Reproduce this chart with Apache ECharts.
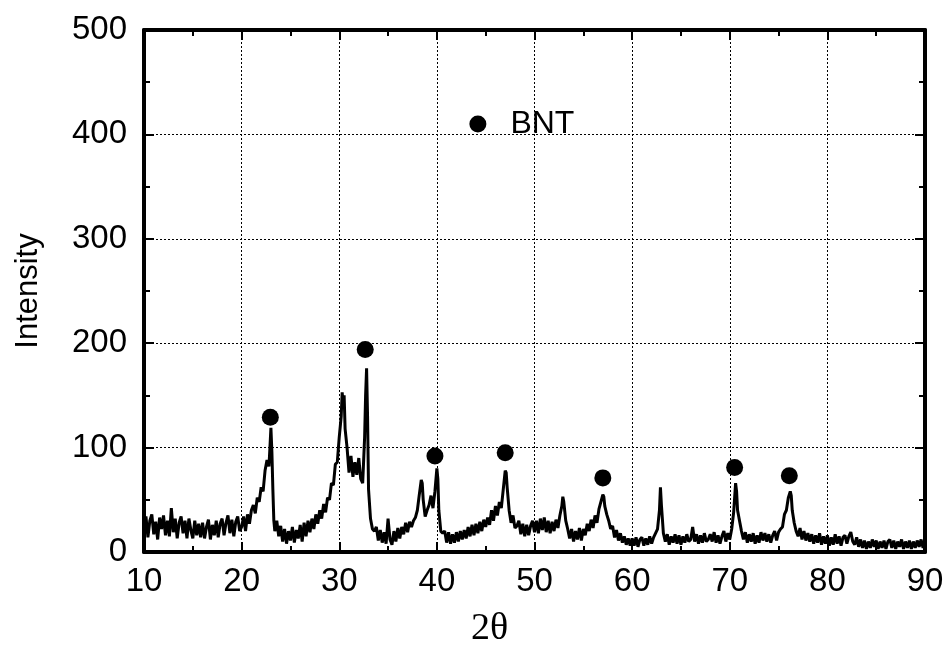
<!DOCTYPE html>
<html><head><meta charset="utf-8">
<script src="https://cdn.jsdelivr.net/npm/echarts@6/dist/echarts.min.js"></script>
<style>html,body{margin:0;padding:0;background:#fff}#c{width:950px;height:669px}</style>
</head><body><div id="c"></div>
<script>
// XRD pattern: [2theta, intensity]
const pattern = [
[10.0,20],[10.2,34],[10.4,14],[10.6,30],[10.8,36],[11.0,17],[11.2,29],[11.4,12],[11.6,33],[11.8,22],
[12.0,35],[12.2,16],[12.4,30],[12.6,15],[12.8,42],[13.0,19],[13.2,32],[13.4,13],[13.6,28],[13.8,34],
[14.0,18],[14.2,30],[14.4,13],[14.6,32],[14.8,21],[15.0,13],[15.2,30],[15.4,16],[15.6,27],[15.8,14],
[16.0,28],[16.2,13],[16.4,24],[16.6,31],[16.8,12],[17.0,26],[17.2,16],[17.4,30],[17.6,14],[17.8,27],
[18.0,32],[18.2,16],[18.4,28],[18.6,35],[18.8,18],[19.0,31],[19.2,15],[19.4,29],[19.6,34],[19.8,20],
[20.0,24],[20.2,34],[20.4,20],[20.6,36],[20.8,27],[21.0,40],[21.2,45],[21.4,37],[21.6,52],[21.8,48],
[22.0,62],[22.2,58],[22.4,78],[22.6,88],[22.8,82],[22.9,100],[23.0,119],[23.1,96],[23.2,60],[23.3,30],
[23.4,20],[23.6,30],[23.8,15],[24.0,25],[24.2,10],[24.4,22],[24.6,8],[24.8,20],[25.0,11],[25.2,24],
[25.4,9],[25.6,21],[25.8,13],[26.0,26],[26.2,10],[26.4,28],[26.6,15],[26.8,30],[27.0,19],[27.2,32],
[27.4,22],[27.6,36],[27.8,27],[28.0,40],[28.2,32],[28.4,46],[28.6,38],[28.8,52],[29.0,50],[29.2,66],
[29.4,64],[29.6,84],[29.8,86],[30.0,110],[30.2,130],[30.3,153],[30.4,140],[30.5,150],[30.6,118],[30.8,100],
[31.0,76],[31.2,92],[31.4,72],[31.6,86],[31.8,74],[32.0,90],[32.2,70],[32.4,66],[32.6,110],[32.7,150],
[32.8,176],[32.9,130],[33.0,60],[33.2,32],[33.4,22],[33.6,20],[33.8,24],[34.0,11],[34.2,21],[34.4,9],
[34.6,19],[34.8,8],[35.0,32],[35.2,12],[35.4,7],[35.6,20],[35.8,10],[36.0,23],[36.2,13],[36.4,24],
[36.6,17],[36.8,28],[37.0,19],[37.2,29],[37.4,24],[37.6,30],[37.8,33],[38.0,40],[38.2,55],[38.4,69],
[38.5,66],[38.6,50],[38.8,34],[39.0,40],[39.2,45],[39.4,54],[39.6,42],[39.8,58],[40.0,80],[40.1,70],
[40.2,40],[40.4,20],[40.6,18],[40.8,20],[41.0,9],[41.2,19],[41.4,8],[41.6,17],[41.8,9],[42.0,19],
[42.2,10],[42.4,20],[42.6,12],[42.8,21],[43.0,13],[43.2,24],[43.4,15],[43.6,26],[43.8,16],[44.0,27],
[44.2,18],[44.4,29],[44.6,20],[44.8,31],[45.0,24],[45.2,33],[45.4,26],[45.6,40],[45.8,30],[46.0,44],
[46.2,35],[46.4,48],[46.6,42],[46.8,60],[47.0,78],[47.1,76],[47.2,62],[47.4,40],[47.6,28],[47.8,35],
[48.0,23],[48.2,25],[48.4,30],[48.6,17],[48.8,27],[49.0,15],[49.2,26],[49.4,16],[49.6,25],[49.8,30],
[50.0,19],[50.2,30],[50.4,18],[50.6,32],[50.8,21],[51.0,33],[51.2,19],[51.4,30],[51.6,18],[51.8,29],
[52.0,20],[52.2,31],[52.4,23],[52.6,35],[52.8,44],[52.9,53],[53.0,48],[53.2,30],[53.4,22],[53.6,13],
[53.8,22],[54.0,10],[54.2,20],[54.4,12],[54.6,23],[54.8,11],[55.0,22],[55.2,16],[55.4,27],[55.6,20],
[55.8,31],[56.0,23],[56.2,35],[56.4,28],[56.6,41],[56.8,40],[57.0,55],[57.1,53],[57.2,44],[57.4,36],
[57.6,30],[57.8,22],[58.0,25],[58.2,14],[58.4,21],[58.6,11],[58.8,18],[59.0,9],[59.2,15],[59.4,7],
[59.6,13],[59.8,6],[60.0,13],[60.2,6],[60.4,14],[60.6,5],[60.8,12],[61.0,14],[61.2,6],[61.4,13],
[61.6,7],[61.8,15],[62.0,8],[62.2,14],[62.4,15],[62.6,22],[62.8,40],[62.9,62],[63.0,45],[63.2,18],
[63.4,10],[63.6,17],[63.8,7],[64.0,15],[64.2,9],[64.4,17],[64.6,8],[64.8,16],[65.0,7],[65.2,15],
[65.4,9],[65.6,17],[65.8,10],[66.0,12],[66.2,24],[66.4,10],[66.6,17],[66.8,8],[67.0,16],[67.2,9],
[67.4,18],[67.6,10],[67.8,12],[68.0,17],[68.2,10],[68.4,19],[68.6,9],[68.8,16],[69.0,8],[69.2,15],
[69.4,20],[69.6,10],[69.8,18],[70.0,12],[70.2,22],[70.4,38],[70.6,66],[70.7,58],[70.8,40],[71.0,30],
[71.2,20],[71.4,12],[71.6,19],[71.8,9],[72.0,17],[72.2,10],[72.4,18],[72.6,8],[72.8,16],[73.0,9],
[73.2,19],[73.4,11],[73.6,18],[73.8,10],[74.0,17],[74.2,9],[74.4,16],[74.6,20],[74.8,11],[75.0,19],
[75.2,22],[75.4,24],[75.6,36],[75.8,40],[76.0,52],[76.2,58],[76.3,54],[76.4,40],[76.6,28],[76.8,20],
[77.0,15],[77.2,23],[77.4,12],[77.6,20],[77.8,11],[78.0,18],[78.2,10],[78.4,17],[78.6,8],[78.8,16],
[79.0,9],[79.2,18],[79.4,7],[79.6,15],[79.8,8],[80.0,16],[80.2,6],[80.4,14],[80.6,7],[80.8,17],
[81.0,8],[81.2,15],[81.4,6],[81.6,14],[81.8,16],[82.0,8],[82.2,15],[82.4,19],[82.6,10],[82.8,7],
[83.0,14],[83.2,5],[83.4,12],[83.6,4],[83.8,11],[84.0,3],[84.2,10],[84.4,4],[84.6,12],[84.8,5],
[85.0,11],[85.2,3],[85.4,10],[85.6,4],[85.8,11],[86.0,3],[86.2,10],[86.4,12],[86.6,4],[86.8,11],
[87.0,3],[87.2,10],[87.4,5],[87.6,12],[87.8,3],[88.0,10],[88.2,4],[88.4,11],[88.6,3],[88.8,10],
[89.0,4],[89.2,11],[89.4,5],[89.6,12],[89.8,4],[90.0,12]
];
// BNT peak markers
const bntPeaks = [[22.94,129],[32.66,194],[39.8,92],[47.0,95],[57.0,71],[70.5,81],[76.1,73]];
const legendPoint = [[44.2,410]];
const legendLabel = 'BNT';
const xName = '2θ';
const yName = 'Intensity';

const black = '#000';
const font = 'Liberation Sans';
function boxAxis(extra){
  return Object.assign({
    axisLine:{show:true,onZero:false,lineStyle:{color:black,width:4}},
    axisTick:{show:true,inside:true,length:10,lineStyle:{color:black,width:2}},
    minorTick:{show:true,splitNumber:2,length:6,lineStyle:{color:black,width:2}},
    splitLine:{show:false},
    axisLabel:{show:false}
  }, extra);
}
const grid = {left:144,right:25,top:30,bottom:117};
const chart = echarts.init(document.getElementById('c'));
chart.setOption({
  animation:false,
  backgroundColor:'#fff',
  grid:grid,
  xAxis:[
    boxAxis({type:'value',min:10,max:90,interval:10,position:'bottom',
      splitLine:{show:true,lineStyle:{color:black,width:1,type:[2,2]}},
      axisLabel:{show:true,fontSize:33,color:black,fontFamily:font,margin:13},
      name:xName,nameLocation:'middle',nameGap:58,
      nameTextStyle:{fontFamily:'Liberation Serif',fontSize:38,color:black,padding:[0,90,0,0]}}),
    boxAxis({type:'value',min:10,max:90,interval:10,position:'top'})
  ],
  yAxis:[
    boxAxis({type:'value',min:0,max:500,interval:100,position:'left',
      splitLine:{show:true,lineStyle:{color:black,width:1,type:[2,2]}},
      axisLabel:{show:true,fontSize:33,color:black,fontFamily:font,margin:17},
      name:yName,nameLocation:'middle',nameGap:100,
      nameTextStyle:{fontFamily:font,fontSize:31,color:black}}),
    boxAxis({type:'value',min:0,max:500,interval:100,position:'right'})
  ],
  series:[
    {type:'line',data:pattern,symbol:'none',sampling:'none',
     lineStyle:{color:black,width:3},z:3},
    {type:'scatter',data:bntPeaks,symbol:'circle',symbolSize:17,
     itemStyle:{color:black,opacity:1},z:4},
    {type:'scatter',data:legendPoint,symbol:'circle',symbolSize:17,
     itemStyle:{color:black,opacity:1},z:4,
     label:{show:true,position:'right',distance:24,formatter:legendLabel,
       fontSize:32,fontFamily:font,color:black}}
  ]
});
</script></body></html>
